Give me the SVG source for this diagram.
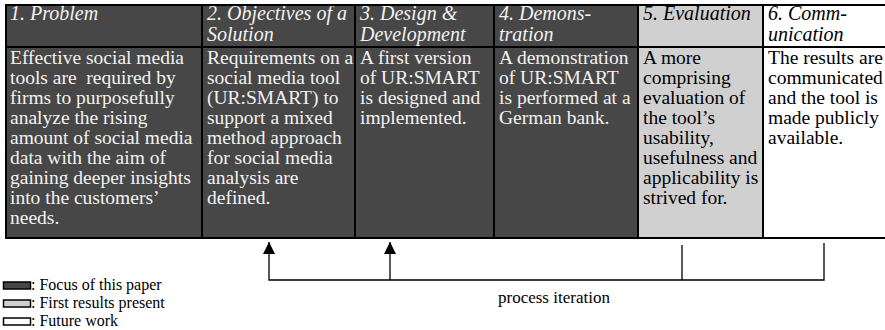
<svg xmlns="http://www.w3.org/2000/svg" width="885" height="330" viewBox="0 0 885 330">
<defs>
<marker id="ah" markerWidth="12" markerHeight="12" refX="12" refY="6" orient="auto" markerUnits="userSpaceOnUse" viewBox="0 0 12 12">
<path d="M0,0 L12,6 L0,12 Z" fill="#000"/>
</marker>
</defs>
<rect width="885" height="330" fill="#fff"/>
<g id="col1">
<rect fill="#474747" x="6" y="5" width="196" height="233"/>
<g fill="#f2f2f2">
<text font-family="Liberation Serif" font-size="20" font-style="italic" x="10" y="20">1. Problem</text>
<text font-family="Liberation Serif" font-size="19.5" x="10" y="64">Effective social media</text>
<text font-family="Liberation Serif" font-size="19.5" x="10" y="84" xml:space="preserve">tools are  required by</text>
<text font-family="Liberation Serif" font-size="19.5" x="10" y="104">firms to purposefully</text>
<text font-family="Liberation Serif" font-size="19.5" x="10" y="124">analyze the rising</text>
<text font-family="Liberation Serif" font-size="19.5" x="10" y="144">amount of social media</text>
<text font-family="Liberation Serif" font-size="19.5" x="10" y="164">data with the aim of</text>
<text font-family="Liberation Serif" font-size="19.5" x="10" y="184">gaining deeper insights</text>
<text font-family="Liberation Serif" font-size="19.5" x="10" y="204">into the customers’</text>
<text font-family="Liberation Serif" font-size="19.5" x="10" y="224">needs.</text>
</g>
</g>
<g id="col2">
<rect fill="#474747" x="202" y="5" width="153" height="233"/>
<g fill="#f2f2f2">
<text font-family="Liberation Serif" font-size="20" font-style="italic" x="207" y="20">2. Objectives of a</text>
<text font-family="Liberation Serif" font-size="20" font-style="italic" x="207" y="41">Solution</text>
<text font-family="Liberation Serif" font-size="19.5" x="207" y="64">Requirements on a</text>
<text font-family="Liberation Serif" font-size="19.5" x="207" y="84">social media tool</text>
<text font-family="Liberation Serif" font-size="19.5" x="207" y="104">(UR:SMART) to</text>
<text font-family="Liberation Serif" font-size="19.5" x="207" y="124">support a mixed</text>
<text font-family="Liberation Serif" font-size="19.5" x="207" y="144">method approach</text>
<text font-family="Liberation Serif" font-size="19.5" x="207" y="164">for social media</text>
<text font-family="Liberation Serif" font-size="19.5" x="207" y="184">analysis are</text>
<text font-family="Liberation Serif" font-size="19.5" x="207" y="204">defined.</text>
</g>
</g>
<g id="col3">
<rect fill="#474747" x="355" y="5" width="139" height="233"/>
<g fill="#f2f2f2">
<text font-family="Liberation Serif" font-size="20" font-style="italic" x="360" y="20">3. Design &amp;</text>
<text font-family="Liberation Serif" font-size="20" font-style="italic" x="360" y="41">Development</text>
<text font-family="Liberation Serif" font-size="19.5" x="360" y="64">A first version</text>
<text font-family="Liberation Serif" font-size="19.5" x="360" y="84">of UR:SMART</text>
<text font-family="Liberation Serif" font-size="19.5" x="360" y="104">is designed and</text>
<text font-family="Liberation Serif" font-size="19.5" x="360" y="124">implemented.</text>
</g>
</g>
<g id="col4">
<rect fill="#474747" x="494" y="5" width="144" height="233"/>
<g fill="#f2f2f2">
<text font-family="Liberation Serif" font-size="20" font-style="italic" x="499" y="20">4. Demons-</text>
<text font-family="Liberation Serif" font-size="20" font-style="italic" x="499" y="41">tration</text>
<text font-family="Liberation Serif" font-size="19.5" x="499" y="64">A demonstration</text>
<text font-family="Liberation Serif" font-size="19.5" x="499" y="84">of UR:SMART</text>
<text font-family="Liberation Serif" font-size="19.5" x="499" y="104">is performed at a</text>
<text font-family="Liberation Serif" font-size="19.5" x="499" y="124">German bank.</text>
</g>
</g>
<g id="col5">
<rect fill="#d0d0d0" x="638" y="5" width="125" height="233"/>
<g fill="#000">
<text font-family="Liberation Serif" font-size="20" font-style="italic" x="643" y="20">5. Evaluation</text>
<text font-family="Liberation Serif" font-size="19.5" x="643" y="64">A more</text>
<text font-family="Liberation Serif" font-size="19.5" x="643" y="84">comprising</text>
<text font-family="Liberation Serif" font-size="19.5" x="643" y="104">evaluation of</text>
<text font-family="Liberation Serif" font-size="19.5" x="643" y="124">the tool’s</text>
<text font-family="Liberation Serif" font-size="19.5" x="643" y="144">usability,</text>
<text font-family="Liberation Serif" font-size="19.5" x="643" y="164">usefulness and</text>
<text font-family="Liberation Serif" font-size="19.5" x="643" y="184">applicability is</text>
<text font-family="Liberation Serif" font-size="19.5" x="643" y="204">strived for.</text>
</g>
</g>
<g id="col6">
<rect fill="#fff" x="763" y="5" width="122" height="233"/>
<g fill="#000">
<text font-family="Liberation Serif" font-size="20" font-style="italic" x="768" y="20">6. Comm-</text>
<text font-family="Liberation Serif" font-size="20" font-style="italic" x="768" y="41">unication</text>
<text font-family="Liberation Serif" font-size="19.5" x="768" y="64">The results are</text>
<text font-family="Liberation Serif" font-size="19.5" x="768" y="84">communicated</text>
<text font-family="Liberation Serif" font-size="19.5" x="768" y="104">and the tool is</text>
<text font-family="Liberation Serif" font-size="19.5" x="768" y="124">made publicly</text>
<text font-family="Liberation Serif" font-size="19.5" x="768" y="144">available.</text>
</g>
</g>
<g id="grid" stroke="#000" stroke-width="2" fill="none">
<line x1="5" y1="5" x2="885" y2="5"/>
<line x1="5" y1="47" x2="885" y2="47"/>
<line x1="5" y1="238" x2="885" y2="238"/>
<line x1="6" y1="4" x2="6" y2="239"/>
<line x1="202" y1="4" x2="202" y2="239"/>
<line x1="355" y1="4" x2="355" y2="239"/>
<line x1="494" y1="4" x2="494" y2="239"/>
<line x1="638" y1="4" x2="638" y2="239"/>
<line x1="763" y1="4" x2="763" y2="239"/>
</g>
<g id="connectors" stroke="#000" stroke-width="1.3" fill="none">
<path d="M824,243 V280 H269 V242" marker-end="url(#ah)"/>
<path d="M390,280 V242" marker-end="url(#ah)"/>
<path d="M682,245 V280"/>
</g>
<g id="iteration-label">
<text font-family="Liberation Serif" font-size="17" fill="#000" x="498" y="303">process iteration</text>
</g>
<g id="legend">
<rect x="3.5" y="282" width="27" height="7" fill="#474747" stroke="#000" stroke-width="1.5"/>
<text font-family="Liberation Serif" font-size="16" fill="#000" x="31" y="290">: Focus of this paper</text>
<rect x="3.5" y="300" width="27" height="7" fill="#d0d0d0" stroke="#000" stroke-width="1.5"/>
<text font-family="Liberation Serif" font-size="16" fill="#000" x="31" y="308">: First results present</text>
<rect x="3.5" y="318" width="27" height="7" fill="#fff" stroke="#000" stroke-width="1.5"/>
<text font-family="Liberation Serif" font-size="16" fill="#000" x="31" y="326">: Future work</text>
</g>
</svg>
